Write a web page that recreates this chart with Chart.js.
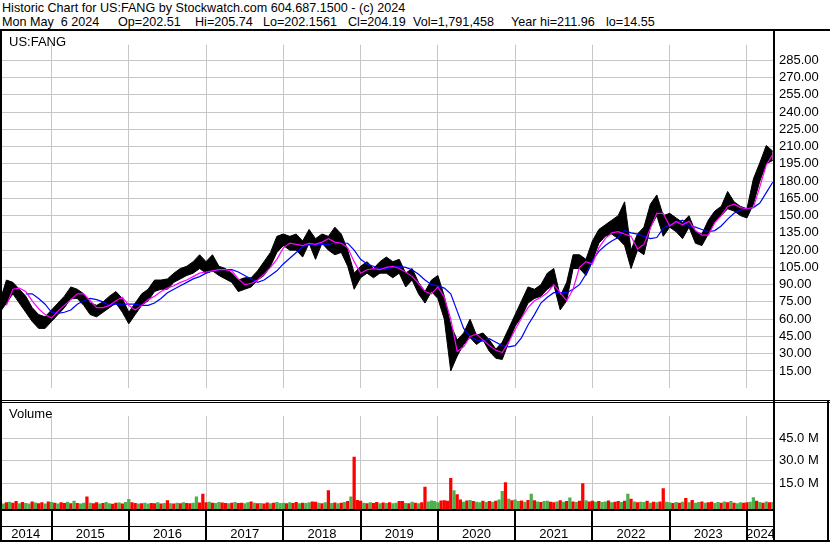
<!DOCTYPE html>
<html>
<head>
<meta charset="utf-8">
<title>Historic Chart for US:FANG</title>
<script src="https://cdn.jsdelivr.net/npm/chart.js@4.4.1/dist/chart.umd.min.js"></script>
<style>
  body { margin: 0; background: #fff; }
  #wrap { position: relative; width: 830px; height: 543px; overflow: hidden; background: #fff;
          font-family: Arial, "Liberation Sans", sans-serif; font-size: 13px; color: #000; }
  .txt { position: absolute; white-space: pre; line-height: 13px; }
  .hdr { font-size: 12.6px; }
  .rule { position: absolute; background: #000; }
  canvas { position: absolute; left: 0; }
  #priceChart { top: 32px; }
  #volumeChart { top: 403px; }
</style>
</head>
<body>
<div id="wrap">
  <div class="txt hdr" style="left:2px; top:2px;">Historic Chart for US:FANG by Stockwatch.com 604.687.1500 - (c) 2024</div>
  <div class="txt hdr" style="left:2px; top:15.5px;">Mon May  6 2024</div>
  <div class="txt hdr" style="left:118px; top:15.5px;">Op=202.51</div>
  <div class="txt hdr" style="left:195px; top:15.5px;">Hi=205.74</div>
  <div class="txt hdr" style="left:263px; top:15.5px;">Lo=202.1561</div>
  <div class="txt hdr" style="left:348px; top:15.5px;">Cl=204.19</div>
  <div class="txt hdr" style="left:413px; top:15.5px;">Vol=1,791,458</div>
  <div class="txt hdr" style="left:511px; top:15.5px;">Year hi=211.96</div>
  <div class="txt hdr" style="left:606px; top:15.5px;">lo=14.55</div>

  <canvas id="priceChart" width="830" height="369"></canvas>
  <canvas id="volumeChart" width="830" height="140"></canvas>

  <div class="txt" style="left:9px; top:35px;">US:FANG</div>
  <div class="txt" style="left:9px; top:407px;">Volume</div>

  <div class="rule" style="left:0; top:29px; width:830px; height:2px;"></div>
  <div class="rule" style="left:0; top:31px; width:2px; height:511px;"></div>
  <div class="rule" style="left:773px; top:31px; width:2px; height:511px;"></div>
  <div class="rule" style="left:0; top:400px; width:830px; height:1px;"></div>
  <div class="rule" style="left:0; top:402px; width:830px; height:1px;"></div>
  <div class="rule" style="left:827px; top:400px; width:2px; height:142px;"></div>
</div>

<script>
'use strict';

// ***** GLOBALS / DATA ******
// x values are months counted from May 2014
const yearLabels = ['2014', '2015', '2016', '2017', '2018', '2019', '2020', '2021', '2022', '2023', '2024'];
const yearStarts = [8, 20, 32, 44, 56, 68, 80, 92, 104, 116];
const lastMonth = 120.2;

const priceTicks = [15, 30, 45, 60, 75, 90, 105, 120, 135, 150, 165, 180, 195, 210, 225, 240, 255, 270, 285];
const volumeTicks = [15, 30, 45];

// monthly trading range
const priceHigh = [
  76, 94, 92, 86, 80, 70, 64, 62, 68, 74,
  80, 88, 86, 82, 74, 72, 75, 80, 84, 78,
  66, 74, 82, 86, 94, 94, 95, 100, 104, 106,
  110, 116, 110, 116, 106, 104, 100, 94, 96, 96,
  102, 110, 118, 132, 134, 132, 134, 128, 138, 130,
  134, 132, 140, 134, 120, 100, 106, 110, 104, 110,
  114, 110, 112, 100, 104, 92, 84, 94, 98, 80,
  55, 42, 48, 60, 46, 48, 42, 34, 40, 52,
  64, 76, 88, 86, 90, 100, 104, 80, 92, 116,
  116, 112, 128, 138, 142, 146, 150, 162, 120, 134,
  140, 160, 168, 150, 152, 148, 144, 150, 136, 134,
  146, 154, 158, 171, 162, 158, 156, 182, 196, 211,
  206
];
const priceLow = [
  66, 74, 82, 74, 66, 58, 52, 52, 58, 64,
  70, 78, 78, 72, 64, 62, 66, 70, 74, 66,
  56, 64, 72, 76, 84, 86, 86, 92, 95, 98,
  100, 104, 100, 102, 98, 95, 92, 84, 86, 88,
  94, 98, 106, 118, 124, 120, 120, 114, 126, 112,
  126, 120, 116, 118, 106, 86, 96, 100, 96, 100,
  100, 96, 100, 88, 94, 82, 74, 84, 78, 60,
  15, 28, 38, 44, 38, 42, 32, 26, 25, 40,
  54, 62, 74, 78, 80, 86, 90, 68, 76, 104,
  104, 98, 110, 126, 132, 134, 130, 124, 104, 120,
  116, 140, 150, 132, 140, 136, 130, 140, 126, 124,
  134, 144, 150, 156, 154, 150, 148, 160, 180, 195,
  198
];

// moving averages (magenta = short, blue = long)
const maShort = [
  null, 72, 86, 87, 84, 76, 69, 64, 61, 67,
  72, 77, 82, 82, 76, 70, 70, 72, 76, 79,
  72, 68, 72, 77, 80, 84, 87, 89, 92, 94,
  97, 100, 101, 102, 103, 103, 102, 95, 90, 91,
  94, 99, 105, 112, 122, 126, 125, 124, 126, 125,
  127, 130, 127, 126, 122, 110, 100, 103, 104, 103,
  105, 106, 104, 101, 97, 91, 84, 82, 88, 79,
  60, 32, 36, 45, 47, 42, 37, 33, 31, 40,
  51, 61, 70, 76, 79, 83, 90, 83, 76, 86,
  105, 110, 108, 122, 130, 135, 136, 134, 132, 121,
  125, 139, 152, 152, 141, 145, 142, 145, 137, 133,
  133, 144, 150, 158, 160, 157, 156, 157, 175, 194,
  203
];
const maLong = [
  null, null, null, null, 82, 82, 78, 73, 66, 65,
  66, 68, 73, 76, 78, 77, 75, 72, 73, 73,
  73, 73, 72, 72, 74, 78, 83, 86, 89, 92,
  95, 97, 100, 102, 103, 103, 103, 101, 98, 95,
  92, 94, 98, 102, 108, 113, 118, 123, 125, 125,
  125, 125, 126, 126, 126, 120, 112, 108, 106, 104,
  104, 105, 106, 105, 103, 99, 94, 90, 89, 87,
  82, 67, 52, 45, 42, 41, 43, 40, 37, 36,
  37, 44, 55, 64, 74, 79, 83, 83, 83, 86,
  90, 99, 111, 119, 124, 128, 131, 137, 135, 134,
  132, 130, 131, 139, 142, 144, 146, 141, 140, 138,
  136, 137, 141, 147, 152, 155, 156, 157, 161, 170,
  179
];

// volume in millions, half-month steps
const volume = [
  2.2, 1.8, 2.6, 3.0, 2.4, 3.4, 2.0, 2.8, 2.2, 1.9, 3.1, 2.5, 2.0, 2.6, 1.8, 3.2,
  2.8, 2.4, 1.9, 2.6, 2.2, 3.0, 2.0, 3.6, 2.1, 1.8, 2.4, 6.5, 2.3, 2.0, 2.6, 1.9, 2.2, 2.8, 2.0, 1.7, 2.3, 2.5, 1.9, 2.8,
  4.8, 2.6, 2.2, 1.8, 2.0, 2.4, 1.9, 2.2, 2.0, 2.7, 1.8, 2.1, 4.0, 2.0, 1.8, 2.3, 2.0, 2.6, 2.2, 2.0, 2.4, 6.5, 2.5, 8.3,
  2.6, 3.0, 2.4, 2.2, 2.8, 2.5, 2.2, 2.0, 2.4, 2.8, 2.1, 2.3, 2.0, 2.6, 3.2, 2.4, 2.0, 2.2, 1.9, 2.5, 2.0, 2.3, 2.8, 2.2,
  2.4, 2.0, 2.6, 2.2, 2.8, 2.0, 2.4, 2.1, 2.6, 3.2, 3.0, 2.4, 2.0, 2.6, 10.6, 2.2, 2.5, 2.0, 2.4, 2.8, 3.4, 6.5, 32.5, 4.2,
  3.6, 2.4, 2.0, 2.6, 2.2, 2.8, 2.0, 2.5, 2.2, 2.7, 2.0, 2.4, 3.5, 3.5, 2.2, 2.0, 3.0, 2.4, 2.0, 2.6, 12.9, 3.2, 3.8, 3.4,
  2.6, 3.8, 4.0, 3.6, 18.6, 10.6, 7.9, 4.5, 3.0, 3.8, 4.2, 3.4, 3.0, 2.6, 3.6, 2.8, 3.4, 3.0, 3.6, 4.4, 10.0, 15.7, 5.0, 4.0,
  4.4, 3.4, 3.8, 3.0, 4.2, 8.2, 4.0, 3.2, 2.8, 3.4, 3.6, 3.0, 2.6, 3.2, 4.0, 3.0, 3.4, 5.8, 3.2, 2.8, 3.6, 15.2, 4.0, 3.2,
  3.6, 3.0, 3.4, 2.8, 3.2, 3.8, 2.6, 3.0, 3.4, 2.8, 3.6, 8.2, 5.0, 3.2, 2.6, 3.0, 2.8, 3.6, 2.4, 3.0, 2.6, 3.2, 11.9, 3.0,
  2.6, 2.2, 2.8, 2.4, 3.0, 5.4, 2.6, 4.2, 2.4, 2.8, 3.2, 2.4, 2.6, 3.0, 2.2, 2.8, 2.4, 3.2, 2.6, 3.4, 2.4, 2.0, 2.6, 2.4,
  2.6, 3.0, 6.0, 3.6, 2.8, 2.4, 3.2, 2.6, 2.8
];
// G = up period, R = down period
const volumeDir =
  'RGRGRRGRGGRGRRGR' +
  'GRGRRGRGRGGRGRRGRGGRRGRG' +
  'GRRGRGGRRGRGRGRGRGRRGGRR' +
  'RGRGGRRGRGRRGGRGRGRRGRGG' +
  'GRGRRGRGGRRGRGRGRGRGRGRR' +
  'RGRGRRGRGRGGRRGRGRGRRGGG' +
  'GRRRRGRRGRGRGGRGRGRGGRGR' +
  'GGRGRGRGRGGRRGRGRGRGRRGR' +
  'RGRGGRGRRGRGRGRGGRGRGRRG' +
  'GRGRGRGRGGRGRRGGRGRGRGGR' +
  'RGGRGRGRG';

const gridColor = '#c6c6c6';
const upColor = '#4cb04c';
const downColor = '#ff0000';
const labelFont = { family: 'Arial, "Liberation Sans", sans-serif', size: 13 };

// **** HELPER FUNCTIONS ****

function toPoints(values, step) {
  return values.map((v, i) => ({ x: i * step, y: v }));
}

function yearMids() {
  const edges = [0].concat(yearStarts, [lastMonth]);
  const mids = [];
  for (let i = 0; i < yearLabels.length; i++) {
    mids.push({ value: (edges[i] + edges[i + 1]) / 2, name: yearLabels[i] });
  }
  return mids;
}

function setTicks(list) {
  return function (scale) {
    scale.ticks = list.map(v => ({ value: v }));
  };
}

// draws the black year dividers and row lines under the volume panel
const yearRowPlugin = {
  id: 'yearRow',
  afterDraw(chart) {
    const c = chart.ctx;
    const area = chart.chartArea;
    const xs = chart.scales.x;
    c.save();
    c.fillStyle = '#000';
    c.fillRect(0, area.bottom, area.right, 2);
    c.fillRect(0, area.bottom + 17, area.right, 1);
    c.fillRect(0, chart.height - 3, chart.width, 2);
    yearStarts.forEach(m => {
      const px = Math.round(xs.getPixelForValue(m));
      c.fillRect(px - 1, area.bottom, 2, chart.height - area.bottom - 2);
    });
    c.restore();
  }
};

// **** CHARTS ****

function renderPriceChart() {
  const ctx = document.getElementById('priceChart').getContext('2d');
  new Chart(ctx, {
    type: 'line',
    data: {
      datasets: [
        { data: toPoints(maShort, 1), borderColor: '#ff00ff', borderWidth: 1.2, spanGaps: true },
        { data: toPoints(maLong, 1), borderColor: '#0000ff', borderWidth: 1.2, spanGaps: true },
        { data: toPoints(priceHigh, 1), borderColor: '#000', borderWidth: 1 },
        { data: toPoints(priceLow, 1), borderColor: '#000', borderWidth: 1, fill: '-1', backgroundColor: '#000' }
      ]
    },
    options: {
      responsive: false,
      animation: false,
      devicePixelRatio: 1,
      layout: { padding: 0 },
      elements: { point: { radius: 0 }, line: { tension: 0 } },
      plugins: { legend: { display: false }, tooltip: { enabled: false } },
      scales: {
        x: {
          type: 'linear', min: 0, max: lastMonth,
          afterBuildTicks: setTicks(yearStarts),
          grid: { color: gridColor, drawTicks: false },
          border: { display: false },
          ticks: { display: false }
        },
        y: {
          position: 'right', min: 0, max: 298.5,
          afterBuildTicks: setTicks(priceTicks),
          afterFit: scale => { scale.width = 56; },
          grid: { color: gridColor, drawTicks: false },
          border: { display: false },
          ticks: { color: '#000', font: labelFont, padding: 5, callback: v => v.toFixed(2) }
        }
      }
    }
  });
}

function renderVolumeChart() {
  const ctx = document.getElementById('volumeChart').getContext('2d');
  const volMin = -1.56;
  const xTicks = yearStarts.map(v => ({ value: v, start: true })).concat(yearMids())
    .sort((a, b) => a.value - b.value);

  new Chart(ctx, {
    type: 'bar',
    data: {
      datasets: [{
        data: toPoints(volume, 0.5),
        backgroundColor: volumeDir.split('').map(d => d === 'G' ? upColor : downColor),
        base: volMin,
        barThickness: 2.6
      }]
    },
    options: {
      responsive: false,
      animation: false,
      devicePixelRatio: 1,
      layout: { padding: 0 },
      plugins: { legend: { display: false }, tooltip: { enabled: false } },
      scales: {
        x: {
          type: 'linear', min: 0, max: lastMonth, offset: false,
          afterBuildTicks: scale => { scale.ticks = xTicks.map(t => Object.assign({}, t)); },
          afterFit: scale => {
            scale.height = 34;
            scale.paddingLeft = 0;
            scale.paddingRight = 0;
          },
          grid: {
            offset: false, drawTicks: false,
            color: c => (c.tick && c.tick.start) ? gridColor : 'rgba(0,0,0,0)'
          },
          border: { display: false },
          ticks: {
            autoSkip: false, maxRotation: 0, color: '#000', font: labelFont, padding: 18,
            callback: (v, i, t) => t[i].name || ''
          }
        },
        y: {
          position: 'right', min: volMin, max: 59.6,
          afterBuildTicks: setTicks(volumeTicks),
          afterFit: scale => { scale.width = 56; },
          grid: { color: gridColor, drawTicks: false },
          border: { display: false },
          ticks: { color: '#000', font: labelFont, padding: 5, callback: v => v.toFixed(1) + ' M' }
        }
      }
    },
    plugins: [yearRowPlugin]
  });
}

// **** EXECUTABLE CODE *****
renderPriceChart();
renderVolumeChart();
</script>
</body>
</html>
